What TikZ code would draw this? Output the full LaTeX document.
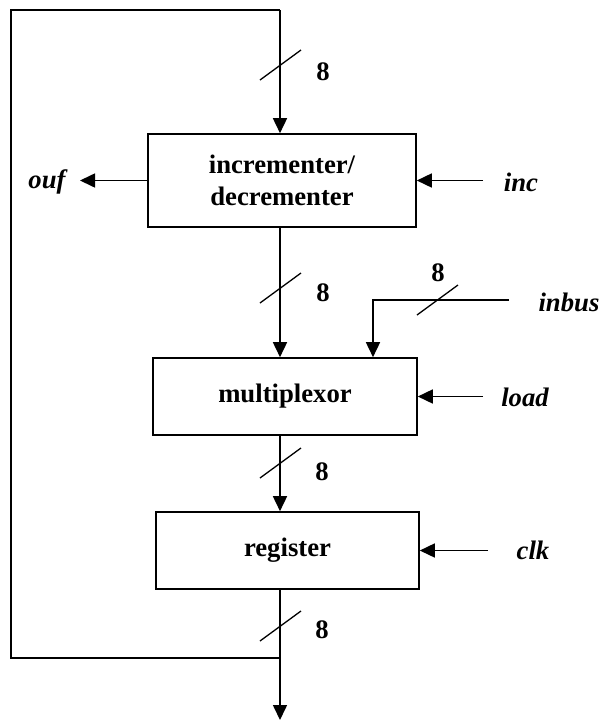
\documentclass[tikz,border=0pt]{standalone}
\usepackage{fontspec}
\setmainfont{Liberation Serif}
\usetikzlibrary{arrows.meta}
\begin{document}
\begin{tikzpicture}[x=1pt,y=-1pt,
  line width=1.6pt,
  blk/.style={draw, line width=1.6pt, inner sep=0pt, align=center,
    font=\fontsize{26.7}{32}\selectfont\bfseries},
  lbl/.style={inner sep=0pt, font=\fontsize{26.7}{32}\selectfont\bfseries\itshape},
  num/.style={inner sep=0pt, font=\fontsize{26.7}{32}\selectfont\bfseries},
  arr/.style={-{Triangle[length=15pt,width=14pt]}},
  slashline/.style={line width=1.3pt}]
\useasboundingbox (0,0) rectangle (600,721);
% blocks
\node[blk, minimum width=268pt, minimum height=93pt] (incdec) at (282,180.5) {incrementer/\\decrementer};
\node[blk, minimum width=264pt, minimum height=77pt] (mux) at (285,396.5) {multiplexor};
\node[blk, minimum width=263pt, minimum height=77pt] (reg) at (287.5,550.5) {register};
% bus coordinates
\coordinate (top) at (280,10);
\coordinate (tl) at (11,10);
\coordinate (bl) at (11,658);
\coordinate (join) at (280,658);
\coordinate (out) at (280,720);
% feedback loop and main bus
\draw (join) -- (bl) -- (tl) -- (top);
\draw[arr] (top) -- (incdec.north -| top);
\draw[arr] (incdec.south -| top) -- (mux.north -| top);
\draw[arr] (mux.south -| top) -- (reg.north -| top);
\draw[arr] (reg.south -| top) -- (out);
% side signals
\coordinate (oufend) at (80,180.5);
\draw[arr] (incdec.west) -- (oufend);
\node[lbl] (ouf) at (47,182) {ouf};
\coordinate (incsrc) at (483,180.5);
\draw[arr] (incsrc) -- (incdec.east);
\node[lbl] (inc) at (521,182) {inc};
\coordinate (inbsrc) at (509,300);
\coordinate (inbturn) at (373,300);
\draw[arr] (inbsrc) -- (inbturn) -- (mux.north -| inbturn);
\node[lbl] (inbus) at (569,302) {inbus};
\coordinate (loadsrc) at (483,396.5);
\draw[arr] (loadsrc) -- (mux.east);
\node[lbl] (load) at (525,397) {load};
\coordinate (clksrc) at (488,550.5);
\draw[arr] (clksrc) -- (reg.east);
\node[lbl] (clk) at (533,550) {clk};
% bus width slashes
\foreach \n/\p in {s1/{280,65}, s2/{280,288}, s3/{280,463}, s4/{280,626}, s5/{437,300}} {
  \coordinate (\n) at (\p);
  \draw[slashline] (\n) +(-20,15) -- +(21,-15);
}
\node[num] (w1) at (323,72) {8};
\node[num] (w2) at (323,293) {8};
\node[num] (w3) at (322,472) {8};
\node[num] (w4) at (322,630) {8};
\node[num] (w5) at (438,273) {8};
\end{tikzpicture}
\end{document}
